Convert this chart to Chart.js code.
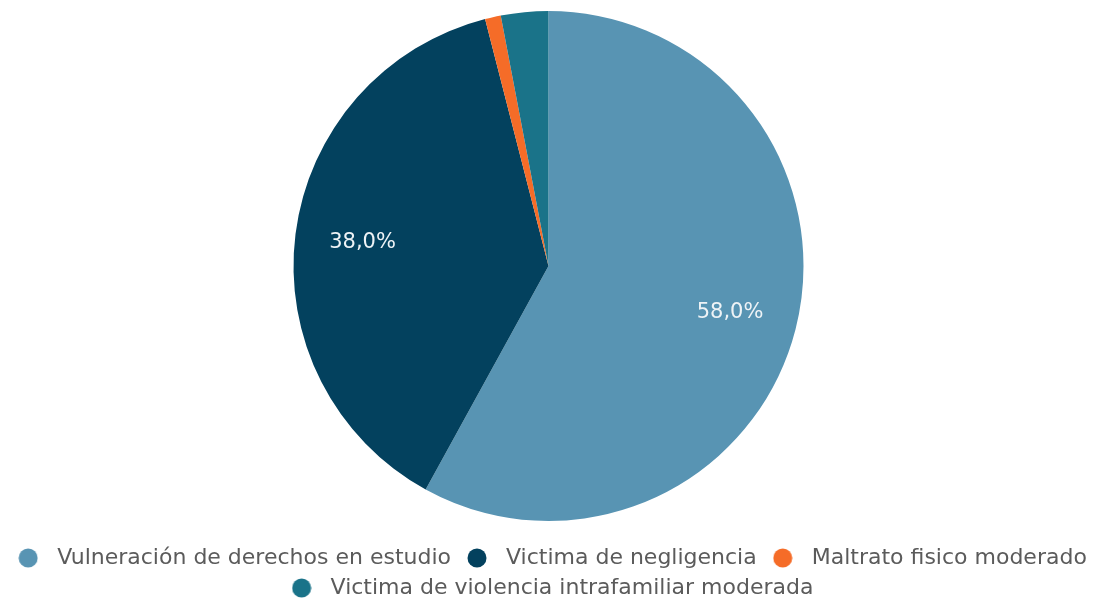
<!DOCTYPE html>
<html>
<head>
<meta charset="utf-8">
<script src="https://cdn.jsdelivr.net/npm/chart.js@4/dist/chart.umd.min.js"></script>
<style>
  html, body { margin: 0; padding: 0; background: #fff; overflow: hidden; }
  #wrap { width: 1097px; height: 613px; margin-top: -7px; }
</style>
</head>
<body>
<div id="wrap"><canvas id="pieChart"></canvas></div>
<script>
const categories = [
    'Vulneración de derechos en estudio',
    'Victima de negligencia',
    'Maltrato fisico moderado',
    'Victima de violencia intrafamiliar moderada'
];
const percentages = [58, 38, 1, 3];
const sliceColors = ['#5894b3', '#03415e', '#f56c28', '#1a7389'];

// little round markers for the legend, drawn as images so the box can be wider than the dot
function makeDot(color) {
    const c = document.createElement('canvas');
    c.width = 20;
    c.height = 20;
    const g = c.getContext('2d');
    g.fillStyle = color;
    g.beginPath();
    g.arc(10, 10, 9.5, 0, Math.PI * 2);
    g.fill();
    return c;
}
const dots = sliceColors.map(makeDot);

// percentage labels inside the larger slices
const sliceLabels = {
    id: 'sliceLabels',
    afterDatasetsDraw(chart) {
        const ctx = chart.ctx;
        const meta = chart.getDatasetMeta(0);
        const values = chart.data.datasets[0].data;
        const total = values.reduce((a, b) => a + b, 0);
        ctx.save();
        ctx.font = '21px "DejaVu Sans"';
        ctx.fillStyle = '#eef3f6';
        ctx.textAlign = 'center';
        ctx.textBaseline = 'middle';
        meta.data.forEach((arc, i) => {
            const pct = values[i] / total * 100;
            if (pct < 5) return;
            const mid = (arc.startAngle + arc.endAngle) / 2;
            const r = arc.outerRadius * 0.735;
            const x = arc.x + Math.cos(mid) * r;
            const y = arc.y + Math.sin(mid) * r;
            ctx.fillText(pct.toFixed(1).replace('.', ',') + '%', x, y);
        });
        ctx.restore();
    }
};

const ctx = document.getElementById('pieChart').getContext('2d');
new Chart(ctx, {
    type: 'pie',
    data: {
        labels: categories,
        datasets: [{
            data: percentages,
            backgroundColor: sliceColors,
            borderWidth: 0,
            radius: 255
        }]
    },
    options: {
        responsive: true,
        maintainAspectRatio: false,
        animation: false,
        layout: { padding: { top: 0, bottom: -3 } },
        plugins: {
            tooltip: { enabled: false },
            legend: {
                position: 'bottom',
                labels: {
                    usePointStyle: true,
                    pointStyleWidth: 36,
                    boxHeight: 20,
                    padding: 8,
                    color: '#5b5b5b',
                    font: { family: '"DejaVu Sans"', size: 22 },
                    generateLabels(chart) {
                        const items = Chart.overrides.pie.plugins.legend.labels.generateLabels(chart);
                        items.forEach((item, i) => { item.pointStyle = dots[i]; });
                        return items;
                    }
                }
            }
        }
    },
    plugins: [sliceLabels]
});
</script>
</body>
</html>
